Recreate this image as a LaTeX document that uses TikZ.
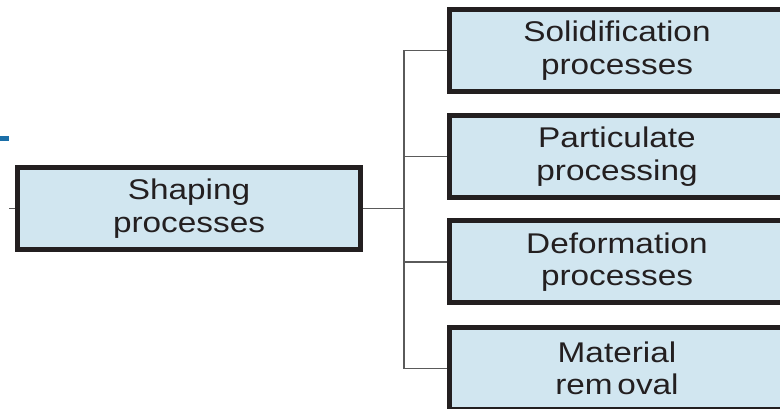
\documentclass[tikz,border=0pt]{standalone}
\usepackage{fontspec}
\setmainfont{Liberation Sans}[FakeStretch=1.17]
\usepackage{tikz}
\usetikzlibrary{calc,backgrounds}

\definecolor{boxfill}{HTML}{D1E6F0}
\definecolor{boxline}{HTML}{231F20}
\definecolor{linkgray}{HTML}{5A5A5A}
\definecolor{tabblue}{HTML}{1B6FA8}

\begin{document}
\begin{tikzpicture}[x=1pt,y=1pt]
            \tikzset{ProcBox/.style={draw=boxline,fill=boxfill,line width=5pt,text=boxline,
                       align=center,font=\fontsize{28.5}{32.5}\selectfont,inner sep=0pt,
                       minimum height=82pt,minimum width=335pt},
                     Link/.style={draw=linkgray,line width=1.5pt}};
            \useasboundingbox (0,0) rectangle (780,409);
            \clip (0,0) rectangle (780,409);

            \fill[tabblue] (0,268) rectangle (9,273);

            \node[ProcBox,minimum width=343pt] (shaping) at (189,200.5) {Shaping\\processes};

            \node[ProcBox] (solid) at (617,358.5) {Solidification\\processes};
            \node[ProcBox] (partic) at (617,252.5) {Particulate\\processing};
            \node[ProcBox] (deform) at (617,147) {Deformation\\processes};
            \node[ProcBox] (removal) at (617,40.5) {Material\\rem\,oval};

            \coordinate (stub) at (9,200.5);
            \coordinate (bus) at (404,200.5);

            \begin{scope}[on background layer]
              \draw[Link] (stub) -- (shaping.west);
              \draw[Link] (shaping.east) -- (bus);
              \draw[Link] (bus) |- (solid.west);
              \draw[Link] (bus) |- (partic.west);
              \draw[Link] (bus) |- (deform.west);
              \draw[Link] (bus) |- (removal.west);
            \end{scope}
          \end{tikzpicture}
\end{document}
